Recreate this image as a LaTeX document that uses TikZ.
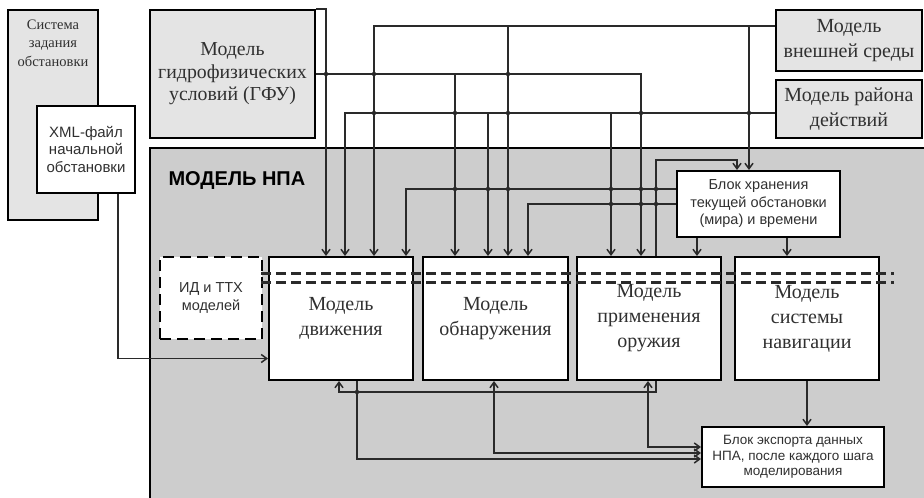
\documentclass[tikz,border=0pt]{standalone}
\usepackage{fontspec}
\setmainfont{Liberation Serif}
\setsansfont{Liberation Sans}
\usetikzlibrary{arrows.meta}

\definecolor{boxgray}{HTML}{E4E4E4}
\definecolor{npagray}{HTML}{CDCDCD}
\definecolor{linegray}{HTML}{2A2A2A}
\definecolor{txtgray}{HTML}{303030}

\tikzset{
  frame/.style={draw=black, line width=2pt},
  lightbox/.style={frame, fill=boxgray, text=txtgray, align=center, inner sep=0pt},
  whitebox/.style={frame, fill=white, text=txtgray, align=center, inner sep=0pt},
  modelbox/.style={whitebox, minimum width=144, minimum height=123,
    font=\fontsize{20}{25}\selectfont},
  link/.style={line width=1.5pt, draw=linegray},
  arr/.style={link, -{Straight Barb[length=5.5pt,width=8pt]}},
  cutline/.style={line width=3pt, draw=linegray, dash pattern=on 10pt off 5pt},
}

\begin{document}
\begin{tikzpicture}[x=1pt,y=-1pt]
  \useasboundingbox (0,0) rectangle (924,498);

  % outer blocks
  \node[frame, fill=npagray, minimum width=790, minimum height=362] (npa) at (545,329) {};
  \node[anchor=west, font=\sffamily\bfseries\fontsize{20}{24}\selectfont, text=black] (npatitle) at (165,181) {МОДЕЛЬ НПА};

  \node[lightbox, minimum width=90, minimum height=210] (sys) at (53,115) {};
  \node[anchor=north, align=center, text=txtgray, font=\fontsize{14.5}{18.5}\selectfont] (systxt) at ([yshift=-7pt]sys.north) {Система\\задания\\обстановки};
  \node[whitebox, minimum width=98, minimum height=87, font=\sffamily\fontsize{15}{17.5}\selectfont] (xml) at (86,149.5) {XML-файл\\начальной\\обстановки};

  \node[lightbox, minimum width=165, minimum height=128, font=\fontsize{19.8}{22.5}\selectfont] (gfu) at (232.5,74) {Модель\\гидрофизических\\условий (ГФУ)};
  \node[lightbox, minimum width=146, minimum height=61, font=\fontsize{20}{25}\selectfont] (ext) at (849,40.5) {Модель\\внешней среды};
  \node[lightbox, minimum width=146, minimum height=58, font=\fontsize{20}{25}\selectfont] (area) at (849,109) {Модель района\\действий};

  % inner blocks
  \node[whitebox, minimum width=163, minimum height=66, font=\sffamily\fontsize{14.5}{17.5}\selectfont] (store) at (758.5,204) {Блок хранения\\текущей обстановки\\(мира) и времени};
  \node[whitebox, dashed, dash pattern=on 11pt off 6pt, line width=2.8pt, minimum width=102, minimum height=82,
    font=\sffamily\fontsize{14.5}{18}\selectfont] (id) at (211,298) {ИД и ТТХ\\моделей};
  \node[modelbox] (dv) at (341,318.5) {Модель\\движения};
  \node[modelbox, minimum width=145] (obn) at (495.5,318.5) {Модель\\обнаружения};
  \node[modelbox] (wpn) at (649,318.5) {Модель\\применения\\оружия};
  \node[modelbox] (nav) at (807,318.5) {Модель\\системы\\навигации};
  \node[whitebox, minimum width=182, minimum height=60, font=\sffamily\fontsize{13.5}{15.5}\selectfont] (exp) at (793,457) {Блок экспорта данных\\НПА, после каждого шага\\моделирования};

  % cut through the models
  \draw[cutline] ([xshift=-7pt,yshift=-17pt]dv.north west) -- ([xshift=14pt,yshift=-17pt]nav.north east);
  \draw[cutline] ([xshift=-7pt,yshift=-26pt]dv.north west) -- ([xshift=14pt,yshift=-26pt]nav.north east);

  % inputs on the model tops
  \coordinate (d1) at ([xshift=58pt]dv.north west);
  \coordinate (d2) at ([xshift=77pt]dv.north west);
  \coordinate (d3) at ([xshift=106pt]dv.north west);
  \coordinate (d4) at ([xshift=138pt]dv.north west);
  \coordinate (o1) at ([xshift=33pt]obn.north west);
  \coordinate (o2) at ([xshift=66pt]obn.north west);
  \coordinate (o3) at ([xshift=86pt]obn.north west);
  \coordinate (o4) at ([xshift=106pt]obn.north west);
  \coordinate (w1) at ([xshift=35pt]wpn.north west);
  \coordinate (w2) at ([xshift=65pt]wpn.north west);
  \coordinate (w3) at ([xshift=80pt]wpn.north west);
  \coordinate (w4) at ([xshift=121pt]wpn.north west);
  \coordinate (n1) at ([xshift=53pt]nav.north west);
  \coordinate (s1) at ([xshift=61pt]store.north west);
  \coordinate (s2) at ([xshift=73pt]store.north west);

  % levels of the buses
  \coordinate (eo) at ([yshift=14.5pt]ext.west);
  \coordinate (gl) at (gfu.east);
  \coordinate (ao) at ([yshift=-4pt]area.west);
  \coordinate (so1) at ([yshift=15pt]store.west);
  \coordinate (so2) at (store.west);

  % external models
  \draw[arr] (gfu.north east) -| (d1);
  \draw[arr] (gl) -| (w2);
  \draw[arr] (gl -| o1) -- (o1);
  \draw[arr] (eo) -| (d3);
  \draw[arr] (eo -| o3) -- (o3);
  \draw[arr] (eo -| s2) -- (s2);
  \draw[arr] (ao) -| (d2);
  \draw[arr] (ao -| o2) -- (o2);
  \draw[arr] (ao -| w1) -- (w1);

  % store block
  \draw[arr] (so1) -| (d4);
  \draw[arr] (so2) -| (o4);
  \draw[arr] (w3) |- ([yshift=10pt]s1) -- (s1);
  \draw[arr] (store.south -| w4) -- (w4);
  \draw[arr] (store.south -| n1) -- (n1);

  % start file
  \draw[arr] ([xshift=32pt]xml.south) |- ([yshift=-40pt]dv.west);

  % bottom links
  \coordinate (db1) at ([xshift=71pt]dv.south west);
  \coordinate (db2) at ([xshift=89pt]dv.south west);
  \coordinate (ob1) at ([xshift=72pt]obn.south west);
  \coordinate (wb1) at ([xshift=72pt]wpn.south west);
  \coordinate (wb2) at ([xshift=80pt]wpn.south west);
  \coordinate (bus) at ([yshift=-11pt]dv.south);

  \draw[arr] (wb2) |- (bus) -| (db1);
  \draw[arr] (ob1 |- bus) -- (ob1);
  \draw[arr] (wb1 |- bus) -- (wb1);
  \draw[arr] (db2) |- ([yshift=-2pt]exp.west);
  \draw[arr] (ob1 |- bus) |- ([yshift=4pt]exp.west);
  \draw[arr] (wb1 |- bus) |- ([yshift=10pt]exp.west);
  \draw[arr] (nav.south) -- (nav.south |- exp.north);

  % junctions
  \foreach \h/\v in {gl/d1, gl/d3, gl/o3, ao/d3, ao/o1, ao/o3, ao/w2, ao/s2,
      so1/o1, so1/o2, so1/o3, so1/w1, so1/w2, so1/w3, so2/w1, so2/w2, so2/w3, bus/db2}
    \fill[linegray] (\h -| \v) circle (2.2pt);
\end{tikzpicture}
\end{document}
